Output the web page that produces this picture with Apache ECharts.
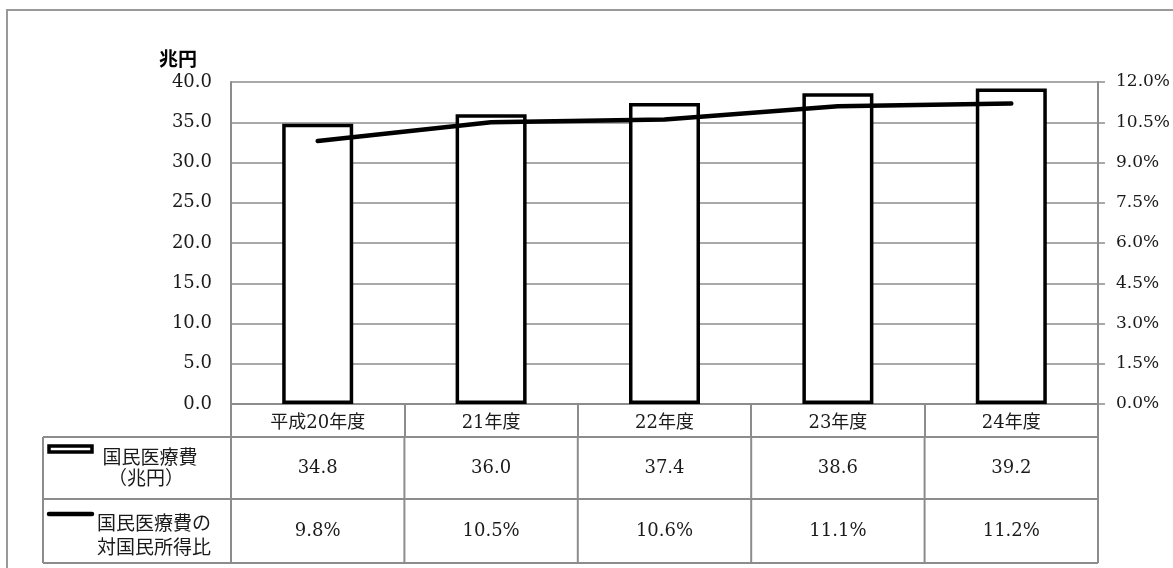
<!DOCTYPE html>
<html>
<head>
<meta charset="utf-8">
<script src="https://cdn.jsdelivr.net/npm/echarts@6/dist/echarts.min.js"></script>
<style>
  html, body { margin: 0; padding: 0; background: #fff; }
  #chart { width: 1173px; height: 568px; }
</style>
</head>
<body>
<div id="chart"></div>
<script>
// 国民医療費と対国民所得比 (平成20〜24年度)
const categories = ['平成20年度', '21年度', '22年度', '23年度', '24年度'];
const medicalCost = [34.8, 36.0, 37.4, 38.6, 39.2];      // 兆円
const incomeRatio = [9.8, 10.5, 10.6, 11.1, 11.2];       // %
const costLegend = ['国民医療費', '（兆円）'];
const ratioLegend = ['国民医療費の', '対国民所得比'];

const GRAY = '#8c8c8c';
const INK = '#1a1a1a';
const NUM_FONT = '"DejaVu Serif", "Noto Sans CJK JP", serif';
const CJK_FONT = '"Noto Sans CJK JP", sans-serif';

const chart = echarts.init(document.getElementById('chart'), null, { renderer: 'canvas' });

chart.setOption({
  animation: false,
  backgroundColor: '#fff',
  grid: { left: 231, right: 72, top: 82, bottom: 164 },
  xAxis: {
    type: 'category',
    data: categories,
    boundaryGap: true,
    axisLine: { lineStyle: { color: GRAY, width: 2 } },
    axisTick: { show: true, interval: 0, length: 33, lineStyle: { color: GRAY, width: 2 } },
    axisLabel: { interval: 0, margin: 10, color: INK, fontSize: 18, fontFamily: NUM_FONT },
  },
  yAxis: [
    {
      type: 'value', min: 0, max: 40, interval: 5,
      axisLine: { show: true, lineStyle: { color: GRAY, width: 2 } },
      axisTick: { show: false },
      splitLine: { lineStyle: { color: GRAY, width: 1.5 } },
      axisLabel: { margin: 19, color: INK, fontSize: 18, fontFamily: NUM_FONT,
        formatter: (v) => v.toFixed(1) },
    },
    {
      type: 'value', min: 0, max: 12, interval: 1.5,
      axisLine: { show: true, lineStyle: { color: GRAY, width: 2 } },
      axisTick: { show: true, length: 7, lineStyle: { color: GRAY, width: 1.5 } },
      splitLine: { show: false },
      axisLabel: { margin: 18, color: INK, fontSize: 17, fontFamily: NUM_FONT,
        formatter: (v) => v.toFixed(1) + '%' },
    },
  ],
  series: [
    {
      name: '国民医療費',
      type: 'bar',
      data: medicalCost,
      barWidth: 71,
      itemStyle: { color: '#fff', borderColor: '#000', borderWidth: 3.5 },
    },
    {
      name: '国民医療費の対国民所得比',
      type: 'line',
      yAxisIndex: 1,
      data: incomeRatio,
      symbol: 'none',
      lineStyle: { color: '#000', width: 4.5, cap: 'round', join: 'round' },
      z: 5,
    },
  ],
});

// Data table under the plot, positioned from the category axis so the cells line up with bars.
function buildTable() {
  const c0 = chart.convertToPixel({ xAxisIndex: 0 }, 0);
  const c1 = chart.convertToPixel({ xAxisIndex: 0 }, 1);
  const band = c1 - c0;
  const left = c0 - band / 2;
  const right = left + band * categories.length;
  const r0 = chart.convertToPixel({ yAxisIndex: 0 }, 0);
  const r1 = r0 + 33, r2 = r1 + 62, r3 = r2 + 64;
  const tableLeft = 43;
  const line = { stroke: GRAY, lineWidth: 2 };
  const els = [];

  [r1, r2, r3].forEach((y) => els.push({
    type: 'line', shape: { x1: tableLeft, y1: y, x2: right, y2: y }, style: line,
  }));
  els.push({ type: 'line', shape: { x1: tableLeft, y1: r1, x2: tableLeft, y2: r3 }, style: line });
  for (let i = 0; i <= categories.length; i++) {
    const x = left + band * i;
    els.push({ type: 'line', shape: { x1: x, y1: r1, x2: x, y2: r3 }, style: line });
  }

  const cell = (text, x, y) => ({
    type: 'text', x, y,
    style: { text, fill: INK, font: '18px ' + NUM_FONT, align: 'center', verticalAlign: 'middle' },
  });
  categories.forEach((_, i) => {
    const cx = chart.convertToPixel({ xAxisIndex: 0 }, i);
    els.push(cell(medicalCost[i].toFixed(1), cx, (r1 + r2) / 2));
    els.push(cell(incomeRatio[i].toFixed(1) + '%', cx, (r2 + r3) / 2));
  });

  // legend keys
  els.push({ type: 'rect', shape: { x: 49, y: r1 + 9, width: 43, height: 6 },
    style: { fill: '#fff', stroke: '#000', lineWidth: 3.5 } });
  els.push({ type: 'line', shape: { x1: 49, y1: r2 + 15, x2: 92, y2: r2 + 15 },
    style: { stroke: '#000', lineWidth: 4.5, lineCap: 'round' } });

  const label = (text, x, y, align) => ({
    type: 'text', x, y,
    style: { text, fill: INK, font: '19px ' + CJK_FONT, align, verticalAlign: 'middle' },
  });
  els.push(label(costLegend[0], 150, r1 + 20, 'center'));
  els.push(label(costLegend[1], 146, r1 + 41, 'center'));
  els.push(label(ratioLegend[0], 97, r2 + 24, 'left'));
  els.push(label(ratioLegend[1], 97, r2 + 48, 'left'));

  // axis unit and frame
  els.push({ type: 'text', x: 178, y: 59,
    style: { text: '兆円', fill: '#000', font: 'bold 19px ' + CJK_FONT, align: 'center', verticalAlign: 'middle' } });
  els.push({ type: 'rect', silent: true, shape: { x: 7, y: 10, width: 1300, height: 700 },
    style: { fill: 'none', stroke: '#999', lineWidth: 2 } });
  return els;
}

chart.setOption({ graphic: buildTable() });
</script>
</body>
</html>
